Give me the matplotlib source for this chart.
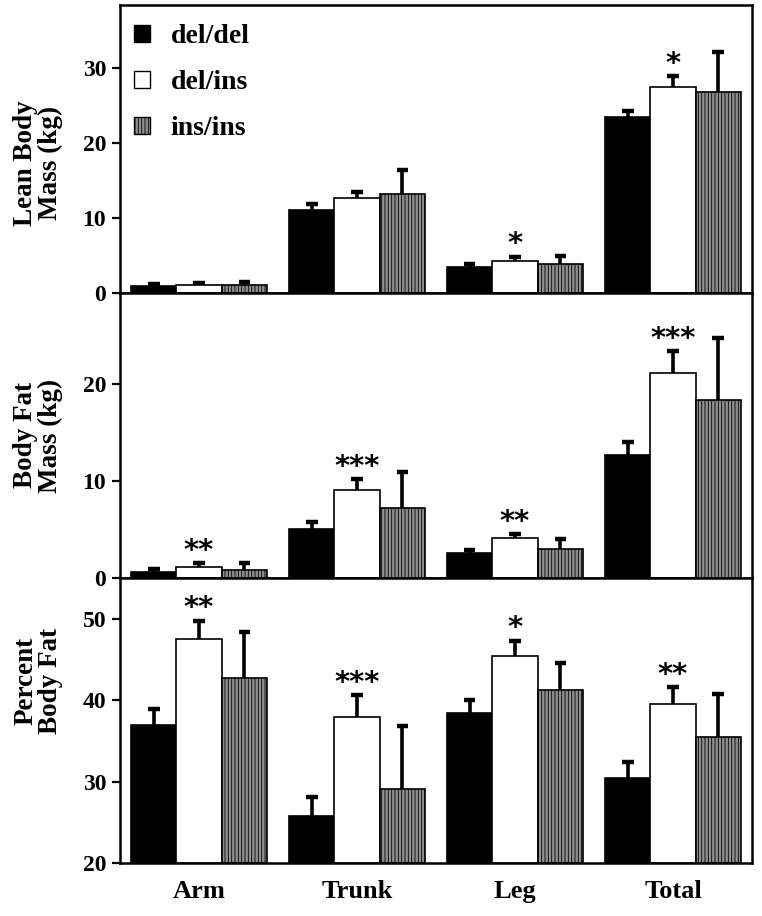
import numpy as np
import matplotlib
matplotlib.use("Agg")
import matplotlib.pyplot as plt
from matplotlib.patches import Patch

plt.rcParams['font.family'] = ['Liberation Serif', 'DejaVu Serif']
plt.rcParams['font.weight'] = 'bold'
plt.rcParams['hatch.color'] = '#6f6f6f'
plt.rcParams['hatch.linewidth'] = 0.6

regions = ["Arm", "Trunk", "Leg", "Total"]
genotypes = ["del/del", "del/ins", "ins/ins"]

# lean body mass (kg)
lean_mean = [[0.9, 11.1, 3.5, 23.4],
             [1.1, 12.7, 4.3, 27.4],
             [1.1, 13.2, 3.9, 26.8]]
lean_err = [[0.3, 0.7, 0.4, 0.9],
            [0.3, 0.7, 0.5, 1.5],
            [0.4, 3.2, 1.0, 5.3]]
lean_sig = ["", "", "*", "*"]

# body fat mass (kg)
fat_mean = [[0.6, 5.05, 2.6, 12.7],
            [1.1, 9.1, 4.1, 21.1],
            [0.8, 7.2, 3.0, 18.4]]
fat_err = [[0.3, 0.7, 0.3, 1.3],
           [0.4, 1.1, 0.4, 2.3],
           [0.7, 3.7, 1.0, 6.4]]
fat_sig = ["**", "***", "**", "***"]

# percent body fat
pct_mean = [[37.0, 25.8, 38.5, 30.4],
            [47.6, 38.0, 45.5, 39.6],
            [42.7, 29.1, 41.3, 35.5]]
pct_err = [[2.0, 2.3, 1.6, 2.0],
           [2.2, 2.6, 1.8, 2.0],
           [5.7, 7.8, 3.3, 5.3]]
pct_sig = ["**", "***", "*", "**"]

panels = [
    ("Lean Body\nMass (kg)", lean_mean, lean_err, lean_sig, (0, 38.4), [0, 10, 20, 30], 0.45),
    ("Body Fat\nMass (kg)", fat_mean, fat_err, fat_sig, (0, 29.4), [0, 10, 20], 0.5),
    ("Percent\nBody Fat", pct_mean, pct_err, pct_sig, (20, 55.05), [20, 30, 40, 50], 0.64),
]

faces = ["black", "white", "#8e8e8e"]
hatches = [None, None, "|||||"]

fig = plt.figure(figsize=(7.62, 9.16), dpi=100)
heights = [288, 285, 285]
top = 1 - 5 / 916
bottom = 1 - 863 / 916
left, right = 120 / 762, 752 / 762
total_h = top - bottom
x = np.arange(len(regions))
w = 0.285
cap = 0.035

y_cur = top
axes = []
for (label, means, errs, sig, ylim, ticks, lab_y), h in zip(panels, heights):
    hh = total_h * h / sum(heights)
    ax = fig.add_axes([left, y_cur - hh, right - left, hh])
    y_cur -= hh
    axes.append(ax)
    base = ylim[0]
    for g in range(3):
        m = np.array(means[g])
        e = np.array(errs[g])
        pos = x + (g - 1) * w
        ax.bar(pos, m - base, w, bottom=base, color=faces[g], edgecolor="black",
               linewidth=1.2, hatch=hatches[g], zorder=2)
        # upper error bars only
        ax.vlines(pos, m, m + e, colors="black", linewidth=2.6, zorder=1)
        ax.hlines(m + e, pos - cap, pos + cap, colors="black", linewidth=3.2, zorder=1)
    white_top = np.array(means[1]) + np.array(errs[1])
    for i, s in enumerate(sig):
        if s:
            ax.annotate(s, (x[i], white_top[i]), xytext=(0, -1), textcoords="offset points",
                        ha="center", va="bottom", fontsize=21, fontweight="bold",
                        family=["DejaVu Sans"])
    ax.set_xlim(-0.5, 3.5)
    ax.set_ylim(*ylim)
    ax.set_yticks(ticks)
    ax.tick_params(axis="y", direction="out", length=6, width=1.6, labelsize=17, pad=4)
    for t in ax.get_yticklabels():
        t.set_fontweight("bold")
    ax.set_xticks([])
    for sp in ax.spines.values():
        sp.set_linewidth(1.8)
    ax.set_ylabel(label, fontsize=19.5, fontweight="bold", linespacing=1.0)
    ax.yaxis.set_label_coords(-0.09, lab_y)

axes[-1].set_xticks(x)
axes[-1].set_xticklabels(regions, fontsize=19, fontweight="bold")
axes[-1].tick_params(axis="x", length=0, pad=12)

handles = [Patch(facecolor=faces[g], edgecolor="black", hatch=hatches[g], linewidth=1) for g in range(3)]
axes[0].legend(handles, genotypes, loc="upper left", frameon=False, fontsize=20,
               handlelength=0.55, handleheight=0.55, handletextpad=0.75, labelspacing=0.75,
               borderaxespad=0.3, bbox_to_anchor=(-0.008, 1.0))

fig.savefig("out.png", dpi=100)
